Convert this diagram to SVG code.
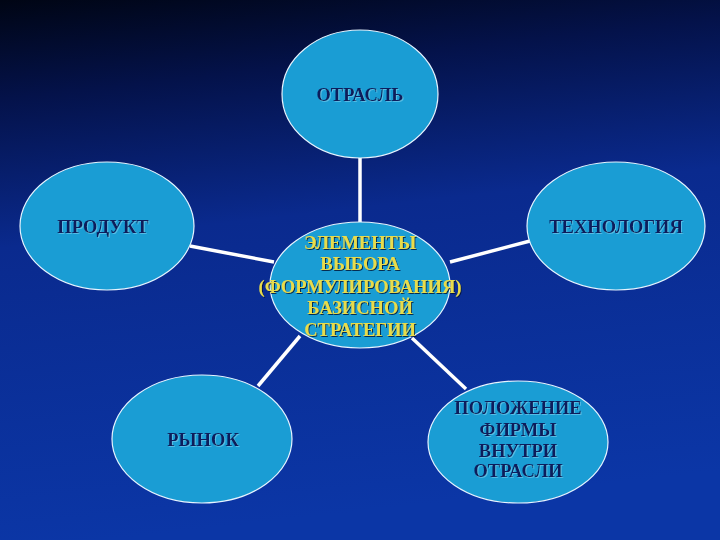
<svg xmlns="http://www.w3.org/2000/svg" width="720" height="540" viewBox="0 0 720 540">
<defs>
<linearGradient id="bg" x1="0" y1="0" x2="0.15" y2="1">
<stop offset="0" stop-color="#000514"/>
<stop offset="0.18" stop-color="#04124a"/>
<stop offset="0.45" stop-color="#0a2a8e"/>
<stop offset="1" stop-color="#0b36a6"/>
</linearGradient>
<filter id="sh" x="-10%" y="-30%" width="120%" height="160%">
<feDropShadow dx="1" dy="1" stdDeviation="0.4" flood-color="#000a30" flood-opacity="0.8"/>
</filter>
<filter id="sh2" x="-10%" y="-30%" width="120%" height="160%">
<feDropShadow dx="1" dy="1" stdDeviation="0.3" flood-color="#7fd0f0" flood-opacity="0.6"/>
</filter>
</defs>
<style>
.node ellipse{fill:#1a9dd4;stroke:#e6f4ff;stroke-width:1.2}
.lbl{font-family:"Liberation Serif","Times New Roman",serif;font-weight:bold;font-size:18.5px;fill:#0b1f5c;text-anchor:middle}
.clbl{font-family:"Liberation Serif","Times New Roman",serif;font-weight:bold;font-size:18.5px;fill:#e8dc4c;text-anchor:middle}
.conn line{stroke:#ffffff;stroke-width:3.5}
</style>
<rect width="720" height="540" fill="url(#bg)"/>
<g id="connectors" class="conn">
<line x1="360" y1="157" x2="360" y2="223"/>
<line x1="190" y1="246" x2="274" y2="262"/>
<line x1="530" y1="241" x2="450" y2="262"/>
<line x1="258" y1="386" x2="300" y2="336"/>
<line x1="412" y1="338" x2="466" y2="389"/>
</g>
<g id="n-otrasl" class="node">
<ellipse cx="360" cy="94" rx="78" ry="64"/>
<text class="lbl" x="360" y="101" filter="url(#sh2)">ОТРАСЛЬ</text>
</g>
<g id="n-produkt" class="node">
<ellipse cx="107" cy="226" rx="87" ry="64"/>
<text class="lbl" x="103" y="233" filter="url(#sh2)">ПРОДУКТ</text>
</g>
<g id="n-tech" class="node">
<ellipse cx="616" cy="226" rx="89" ry="64"/>
<text class="lbl" x="616" y="233" filter="url(#sh2)">ТЕХНОЛОГИЯ</text>
</g>
<g id="n-center" class="node">
<ellipse cx="360" cy="285" rx="90" ry="63"/>
<g filter="url(#sh)">
<text class="clbl" x="360" y="249">ЭЛЕМЕНТЫ</text>
<text class="clbl" x="360" y="270">ВЫБОРА</text>
<text class="clbl" x="360" y="293">(ФОРМУЛИРОВАНИЯ)</text>
<text class="clbl" x="360" y="314">БАЗИСНОЙ</text>
<text class="clbl" x="360" y="336">СТРАТЕГИИ</text>
</g>
</g>
<g id="n-rynok" class="node">
<ellipse cx="202" cy="439" rx="90" ry="64"/>
<text class="lbl" x="203" y="446" filter="url(#sh2)">РЫНОК</text>
</g>
<g id="n-polozhenie" class="node">
<ellipse cx="518" cy="442" rx="90" ry="61"/>
<g filter="url(#sh2)">
<text class="lbl" x="518" y="414">ПОЛОЖЕНИЕ</text>
<text class="lbl" x="518" y="436">ФИРМЫ</text>
<text class="lbl" x="518" y="457">ВНУТРИ</text>
<text class="lbl" x="518" y="477">ОТРАСЛИ</text>
</g>
</g>
</svg>
